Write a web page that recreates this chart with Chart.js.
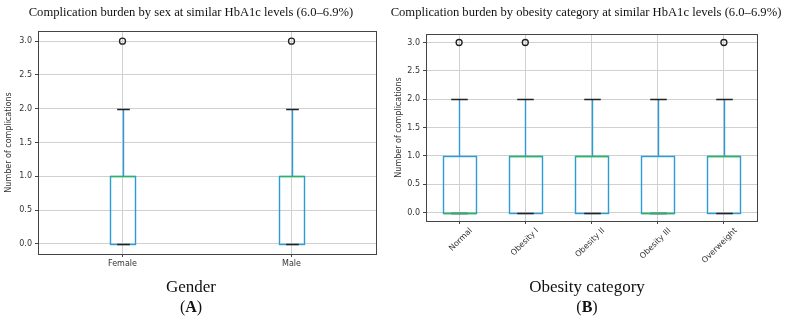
<!DOCTYPE html>
<html>
<head>
<meta charset="utf-8">
<script src="https://cdn.jsdelivr.net/npm/chart.js@4"></script>
<style>
  body { margin: 0; background: #fff; width: 787px; height: 320px; position: relative; overflow: hidden; }
  canvas { position: absolute; top: 0; }
  .txt { position: absolute; font-family: "Liberation Serif", serif; color: #111; white-space: nowrap; transform: translate(-50%, -50%); }
  .title { font-size: 12.6px; top: 12px; }
  .cap { font-size: 17px; top: 287px; }
  .lbl { font-size: 16px; top: 307px; }
</style>
</head>
<body>
<canvas id="chartA" width="390" height="320" style="left:0"></canvas>
<canvas id="chartB" width="397" height="320" style="left:390px"></canvas>

<div class="txt title" style="left:191px">Complication burden by sex at similar HbA1c levels (6.0–6.9%)</div>
<div class="txt title" style="left:586px">Complication burden by obesity category at similar HbA1c levels (6.0–6.9%)</div>
<div class="txt cap" style="left:191px">Gender</div>
<div class="txt lbl" style="left:191px">(<b>A</b>)</div>
<div class="txt cap" style="left:587px">Obesity category</div>
<div class="txt lbl" style="left:587px">(<b>B</b>)</div>

<script>
// -------------------------------
// DATA
// -------------------------------
const yTicks = [0, 0.5, 1, 1.5, 2, 2.5, 3];

// panel A - by sex
const sexCats = ['Female', 'Male'];
const sexQ1 = [0, 0];
const sexQ3 = [1, 1];
const sexMedian = [1, 1];
const sexWhiskLo = [0, 0];
const sexWhiskHi = [2, 2];
const sexOutliers = [3, 3];

// panel B - by obesity category
const obCats = ['Normal', 'Obesity I', 'Obesity II', 'Obesity III', 'Overweight'];
const obQ1 = [0, 0, 0, 0, 0];
const obQ3 = [1, 1, 1, 1, 1];
const obMedian = [0, 1, 1, 0, 1];
const obWhiskLo = [0, 0, 0, 0, 0];
const obWhiskHi = [2, 2, 2, 2, 2];
const obOutliers = [3, 3, null, null, 3];

const BLUE = '#2a9dd8';
const GREEN = '#2bb35e';
const INK = '#333';
const GRID = '#d0d0d0';

// box outline, whiskers, caps, medians + full frame around the plot
const boxParts = {
    id: 'boxParts',
    afterDatasetsDraw(chart, args, opts) {
        const { ctx, chartArea, scales: { x, y } } = chart;
        const bars = chart.getDatasetMeta(0).data;
        const px = v => Math.round(v) + 0.5;
        ctx.save();
        ctx.lineWidth = 1.4;
        opts.cats.forEach((c, i) => {
            const bar = bars[i];
            const cx = px(bar.x);
            const half = bar.width / 2;
            const yTop = px(y.getPixelForValue(opts.q3[i]));
            const yBot = px(y.getPixelForValue(opts.q1[i]));
            // box
            ctx.strokeStyle = BLUE;
            ctx.strokeRect(px(bar.x - half), yTop, Math.round(bar.width), yBot - yTop);
            // whiskers
            ctx.beginPath();
            ctx.moveTo(cx, yTop);
            ctx.lineTo(cx, px(y.getPixelForValue(opts.hi[i])));
            ctx.moveTo(cx, yBot);
            ctx.lineTo(cx, px(y.getPixelForValue(opts.lo[i])));
            ctx.stroke();
            // caps
            ctx.strokeStyle = '#222';
            ctx.beginPath();
            [opts.hi[i], opts.lo[i]].forEach(v => {
                const yy = px(y.getPixelForValue(v));
                ctx.moveTo(cx - half / 2, yy);
                ctx.lineTo(cx + half / 2, yy);
            });
            ctx.stroke();
            // median
            ctx.strokeStyle = GREEN;
            ctx.beginPath();
            const my = px(y.getPixelForValue(opts.med[i]));
            ctx.moveTo(px(bar.x - half), my);
            ctx.lineTo(px(bar.x - half) + Math.round(bar.width), my);
            ctx.stroke();
        });
        ctx.strokeStyle = '#444';
        ctx.lineWidth = 1;
        ctx.strokeRect(px(chartArea.left), px(chartArea.top),
            Math.round(chartArea.width), Math.round(chartArea.height));
        ctx.restore();
    }
};

function makeBox(id, cats, q1, q3, med, lo, hi, outliers, boxWidth, layout, xHeight, rot, shift) {
    new Chart(document.getElementById(id), {
        type: 'bar',
        data: {
            labels: cats,
            datasets: [
                {
                    // invisible floating bars give the box geometry
                    data: cats.map((c, i) => [q1[i], q3[i]]),
                    backgroundColor: 'rgba(0,0,0,0)',
                    borderWidth: 0,
                    barPercentage: boxWidth,
                    categoryPercentage: 1
                },
                {
                    type: 'line',
                    data: outliers,
                    showLine: false,
                    pointStyle: 'circle',
                    pointRadius: 3,
                    pointBorderWidth: 1.3,
                    pointBorderColor: '#222',
                    pointBackgroundColor: 'rgba(0,0,0,0)'
                }
            ]
        },
        options: {
            responsive: false,
            animation: false,
            events: [],
            layout: { padding: layout },
            plugins: {
                legend: { display: false },
                tooltip: { enabled: false },
                boxParts: { cats, q1, q3, med, lo, hi }
            },
            scales: {
                x: {
                    offset: true,
                    grid: { offset: false, color: GRID, tickColor: '#444', tickLength: 3 },
                    border: { display: false },
                    ticks: {
                        color: INK, font: { family: 'DejaVu Sans', size: 8 }, padding: 2,
                        minRotation: rot, maxRotation: rot, labelOffset: shift
                    },
                    afterFit: s => { s.height = xHeight; }
                },
                y: {
                    min: -0.15,
                    max: 3.15,
                    grid: { color: GRID, tickColor: '#444', tickLength: 3 },
                    border: { display: false },
                    ticks: {
                        color: INK, font: { family: 'DejaVu Sans', size: 8 }, padding: 3,
                        callback: v => v.toFixed(1)
                    },
                    afterBuildTicks: s => { s.ticks = yTicks.map(v => ({ value: v })); },
                    title: {
                        display: true,
                        text: 'Number of complications',
                        color: INK,
                        font: { family: 'DejaVu Sans', size: 8 },
                        padding: { top: 4, bottom: 2 }
                    },
                    afterFit: s => { s.width = layout.yWidth; }
                }
            }
        },
        plugins: [boxParts]
    });
}

makeBox('chartA', sexCats, sexQ1, sexQ3, sexMedian, sexWhiskLo, sexWhiskHi, sexOutliers,
    0.15, { top: 31, right: 14, bottom: 0, left: 0, yWidth: 38 }, 66, 0, 0);
makeBox('chartB', obCats, obQ1, obQ3, obMedian, obWhiskLo, obWhiskHi, obOutliers,
    0.5, { top: 34, right: 30, bottom: 0, left: 0, yWidth: 36 }, 99, 45, 12);
</script>
</body>
</html>
